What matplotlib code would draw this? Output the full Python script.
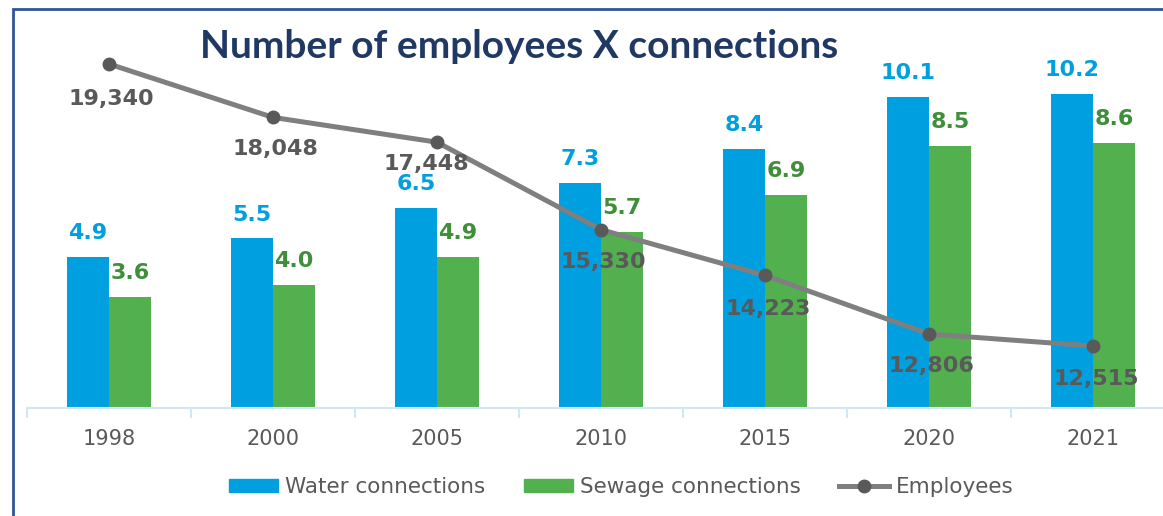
import matplotlib
matplotlib.use("Agg")
import matplotlib.pyplot as plt
from matplotlib.patches import Rectangle
from matplotlib.lines import Line2D
import numpy as np

years = ["1998", "2000", "2005", "2010", "2015", "2020", "2021"]
water = [4.9, 5.5, 6.5, 7.3, 8.4, 10.1, 10.2]
sewage = [3.6, 4.0, 4.9, 5.7, 6.9, 8.5, 8.6]
employees = [19340, 18048, 17448, 15330, 14223, 12806, 12515]

BLUE = "#009fdf"
GREEN = "#53b04f"
GREEN_TXT = "#3f8f3a"
GREY_TXT = "#595959"
LINE = "#7f7f7f"

fig = plt.figure(figsize=(11.63, 5.16), dpi=100)
W, H = 1163, 516
ax = fig.add_axes([27 / W, 1 - 408 / H, 1148 / W, 370 / H])
ax2 = ax.twinx()

x = np.arange(len(years))
bw = 0.256
ax.bar(x - bw / 2, water, bw, color=BLUE, zorder=2)
ax.bar(x + bw / 2, sewage, bw, color=GREEN, zorder=2)
ax.set_xlim(-0.5, 6.5)
ax.set_ylim(0, 12)

for xi, v in zip(x, water):
    ax.annotate(f"{v:.1f}", (xi - bw / 2, v), xytext=(0, 10), textcoords="offset points",
                ha="center", va="bottom", color=BLUE, fontsize=16, fontweight="bold", zorder=5)
for xi, v in zip(x, sewage):
    ax.annotate(f"{v:.1f}", (xi + bw / 2, v), xytext=(0, 10), textcoords="offset points",
                ha="center", va="bottom", color=GREEN_TXT, fontsize=16, fontweight="bold", zorder=5)

ax2.plot(x, employees, color=LINE, lw=3.6, marker="o", ms=9, mfc=GREY_TXT, mec=GREY_TXT, zorder=3)
ax2.set_ylim(11015, 11015 + 370 / 0.04132)
# label offsets (points); the 2005 label sits a bit higher and to the left
offsets = [(2, -25), (2, -23), (-8, -16), (2, -23), (2, -24), (2, -23), (2, -24)]
for xi, v, off in zip(x, employees, offsets):
    ax2.annotate(f"{v:,}", (xi, v), xytext=off, textcoords="offset points",
                 ha="center", va="center", color=GREY_TXT, fontsize=16, fontweight="bold", zorder=6)

for a in (ax, ax2):
    for s in a.spines.values():
        s.set_visible(False)
    a.set_yticks([])
ax.spines["bottom"].set_visible(True)
ax.spines["bottom"].set_color("#d0e8f5")
ax.spines["bottom"].set_linewidth(1.5)
ax.set_xticks(np.arange(-0.5, 7, 1), minor=True)
ax.tick_params(axis="x", which="minor", length=7, color="#d0e8f5", width=1.5)
ax.set_xticks(x)
ax.set_xticklabels(years)
ax.tick_params(axis="x", which="major", length=0, pad=15, labelsize=15, labelcolor=GREY_TXT)

fig.text(519 / W, 1 - 47 / H, "Number of employees X connections", ha="center", va="center",
         fontsize=28, fontweight="bold", color="#1f3864", family="Lato")

handles = [
    Rectangle((0, 0), 1, 1, color=BLUE),
    Rectangle((0, 0), 1, 1, color=GREEN),
    Line2D([], [], color=LINE, lw=3.6, marker="o", ms=9, mfc=GREY_TXT, mec=GREY_TXT),
]
leg = fig.legend(handles, ["Water connections", "Sewage connections", "Employees"],
                 loc="center", bbox_to_anchor=(621 / W, 1 - 487 / H), ncol=3, frameon=False,
                 fontsize=15.5, handlelength=2.3, handleheight=0.55, handletextpad=0.3,
                 columnspacing=1.8, labelcolor=GREY_TXT)

fig.patches.append(Rectangle((12.5 / W, -0.2), 1.2, 1.2 - 9 / H, transform=fig.transFigure,
                             fill=False, edgecolor="#2f5597", lw=2))

fig.savefig("out.png", dpi=100)
